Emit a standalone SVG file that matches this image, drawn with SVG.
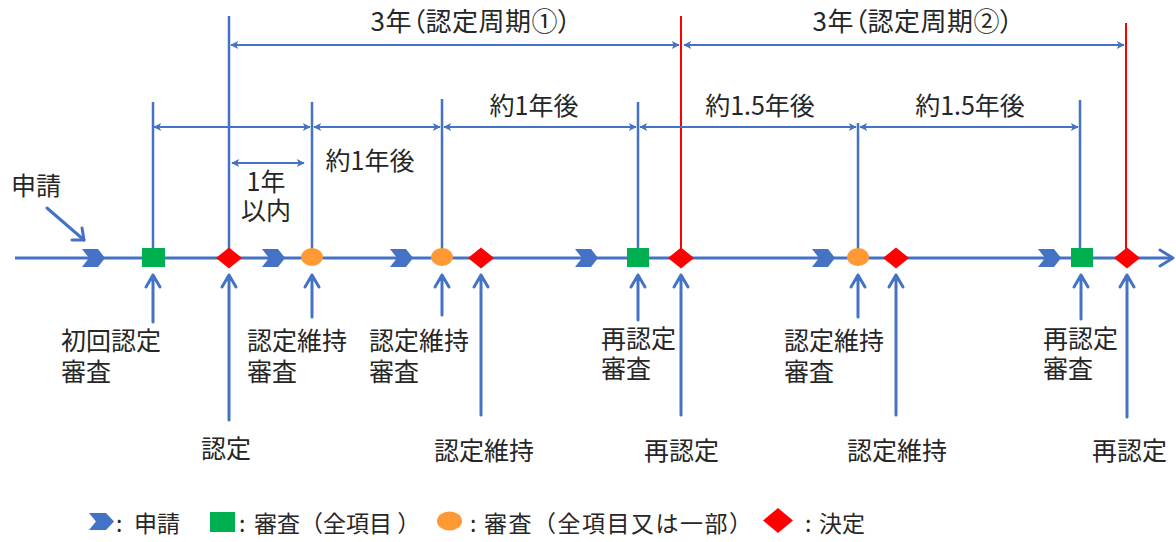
<svg xmlns="http://www.w3.org/2000/svg" width="1176" height="542" viewBox="0 0 1176 542">
<style>
text{font-family:"Noto Sans CJK JP","Noto Sans",sans-serif;fill:#262626}
.t{font-size:25px}
.tm{font-size:25px;text-anchor:middle}
.ti{font-size:26px;text-anchor:middle;font-feature-settings:"palt";letter-spacing:0.5px}
.lg{font-size:23px}
.ln{stroke:#4472C4;stroke-width:2.5;fill:none}
.dim{stroke:#4472C4;stroke-width:2;fill:none;marker-start:url(#ah);marker-end:url(#ah)}
.red{stroke:#FF0000;stroke-width:2;fill:none}
.up{stroke:#4472C4;stroke-width:3;fill:none;stroke-linecap:round;stroke-linejoin:round}
.chev{fill:#4472C4}
.sq{fill:#00B050}
.dia{fill:#FF0000}
.ov{fill:#FF9933}
</style>
<defs>
<marker id="ah" viewBox="0 0 10 10" refX="9" refY="5" markerWidth="9" markerHeight="8" markerUnits="userSpaceOnUse" orient="auto-start-reverse">
<path d="M0,0 L10,5 L0,10 L2.5,5 Z" fill="#4472C4"/>
</marker>
</defs>

<g id="connectors">
<line class="ln" x1="15" y1="258" x2="1172" y2="258" style="stroke-width:3"/>
<polyline class="up" points="1160,250 1173,258 1160,266"/>
<line class="ln" x1="153" y1="102" x2="153" y2="258"/>
<line class="ln" x1="229" y1="16" x2="229" y2="258"/>
<line class="ln" x1="312" y1="102" x2="312" y2="258"/>
<line class="ln" x1="442" y1="99" x2="442" y2="258"/>
<line class="ln" x1="638" y1="102" x2="638" y2="258"/>
<line class="red" x1="681" y1="16" x2="681" y2="258"/>
<line class="ln" x1="858" y1="123" x2="858" y2="258"/>
<line class="ln" x1="1080" y1="100" x2="1080" y2="258"/>
<line class="red" x1="1126" y1="23" x2="1126" y2="258"/>
<line class="dim" x1="231" y1="45" x2="679" y2="45"/>
<line class="dim" x1="684" y1="45" x2="1124" y2="45"/>
<line class="dim" x1="154" y1="127" x2="310" y2="127"/>
<line class="dim" x1="314" y1="127" x2="440" y2="127"/>
<line class="dim" x1="444" y1="127" x2="636" y2="127"/>
<line class="dim" x1="640" y1="127" x2="856" y2="127"/>
<line class="dim" x1="860" y1="127" x2="1078" y2="127"/>
<line class="dim" x1="232" y1="163" x2="304" y2="163"/>
<line class="up" x1="47" y1="208" x2="84" y2="240"/>
<polyline class="up" points="72,240 84,240 82,228"/>
<g class="up">
<path d="M153,322 V275 M146,287 L153,275 L160,287"/>
<path d="M229,420 V275 M222,287 L229,275 L236,287"/>
<path d="M312,317 V275 M305,287 L312,275 L319,287"/>
<path d="M442,315 V275 M435,287 L442,275 L449,287"/>
<path d="M481,415 V275 M474,287 L481,275 L488,287"/>
<path d="M638,320 V275 M631,287 L638,275 L645,287"/>
<path d="M681,415 V275 M674,287 L681,275 L688,287"/>
<path d="M858,317 V275 M851,287 L858,275 L865,287"/>
<path d="M896,415 V275 M889,287 L896,275 L903,287"/>
<path d="M1081,319 V275 M1074,287 L1081,275 L1088,287"/>
<path d="M1127,417 V275 M1120,287 L1127,275 L1134,287"/>
</g>
</g>

<g id="chevrons">
<path class="chev" d="M82,249 H98 L105,258 L98,267 H82 L89,258 Z"/>
<path class="chev" d="M262,249 H278 L285,258 L278,267 H262 L269,258 Z"/>
<path class="chev" d="M390,249 H406 L413,258 L406,267 H390 L397,258 Z"/>
<path class="chev" d="M575,249 H591 L598,258 L591,267 H575 L582,258 Z"/>
<path class="chev" d="M812,249 H828 L835,258 L828,267 H812 L819,258 Z"/>
<path class="chev" d="M1038,249 H1054 L1061,258 L1054,267 H1038 L1045,258 Z"/>
</g>

<g id="node-initial-review"><rect class="sq" x="142" y="248" width="23" height="19"/><text class="t" x="61" y="350">初回認定<tspan x="61" dy="31">審査</tspan></text></g>
<g id="node-certification"><path class="dia" d="M229,247.5 L242,258 L229,268.5 L216,258 Z"/><text class="t" x="201" y="458">認定</text></g>
<g id="node-maint-review-1"><ellipse class="ov" cx="312" cy="257" rx="11" ry="9"/><text class="t" x="247" y="350">認定維持<tspan x="247" dy="31">審査</tspan></text></g>
<g id="node-maint-review-2"><ellipse class="ov" cx="442" cy="257" rx="11" ry="9"/><text class="t" x="369" y="350">認定維持<tspan x="369" dy="31">審査</tspan></text></g>
<g id="node-maint-1"><path class="dia" d="M481,247.5 L494,258 L481,268.5 L468,258 Z"/><text class="t" x="434" y="460">認定維持</text></g>
<g id="node-recert-review-1"><rect class="sq" x="627" y="248" width="22" height="19"/><text class="t" x="601" y="348">再認定<tspan x="601" dy="30">審査</tspan></text></g>
<g id="node-recert-1"><path class="dia" d="M681,247.5 L694,258 L681,268.5 L668,258 Z"/><text class="t" x="644" y="460">再認定</text></g>
<g id="node-maint-review-3"><ellipse class="ov" cx="858" cy="257" rx="11" ry="9"/><text class="t" x="784" y="350">認定維持<tspan x="784" dy="31">審査</tspan></text></g>
<g id="node-maint-2"><path class="dia" d="M896,247.5 L909,258 L896,268.5 L883,258 Z"/><text class="t" x="847" y="460">認定維持</text></g>
<g id="node-recert-review-2"><rect class="sq" x="1071" y="248" width="22" height="19"/><text class="t" x="1043" y="348">再認定<tspan x="1043" dy="30">審査</tspan></text></g>
<g id="node-recert-2"><path class="dia" d="M1127,247.5 L1140,258 L1127,268.5 L1114,258 Z"/><text class="t" x="1092" y="460">再認定</text></g>

<g id="labels">
<text class="t" x="11" y="195">申請</text>
<text class="ti" x="471" y="31">3年（認定周期①）</text>
<text class="ti" x="913" y="31">3年（認定周期②）</text>
<text class="tm" x="534" y="115">約1年後</text>
<text class="tm" x="370" y="170">約1年後</text>
<text class="tm" x="760" y="115">約1.5年後</text>
<text class="tm" x="970" y="115">約1.5年後</text>
<text class="tm" x="266" y="191">1年<tspan x="266" dy="29">以内</tspan></text>
</g>

<g id="legend">
<path class="chev" d="M89,513 H106 L114,521.5 L106,530 H89 L96,521.5 Z"/>
<text class="lg" x="116" y="532">:<tspan x="134">申請</tspan></text>
<rect class="sq" x="210" y="512" width="25" height="20"/>
<text class="lg" x="239" y="532">:<tspan x="254">審査（全項目 ）</tspan></text>
<ellipse class="ov" cx="449.5" cy="521" rx="12.5" ry="9.5"/>
<text class="lg" x="470" y="532">:<tspan x="484" textLength="268" lengthAdjust="spacing">審査（全項目又は一部）</tspan></text>
<path class="dia" d="M778,508 L793,520.5 L778,533 L763,520.5 Z"/>
<text class="lg" x="805" y="532">:<tspan x="819">決定</tspan></text>
</g>
</svg>
